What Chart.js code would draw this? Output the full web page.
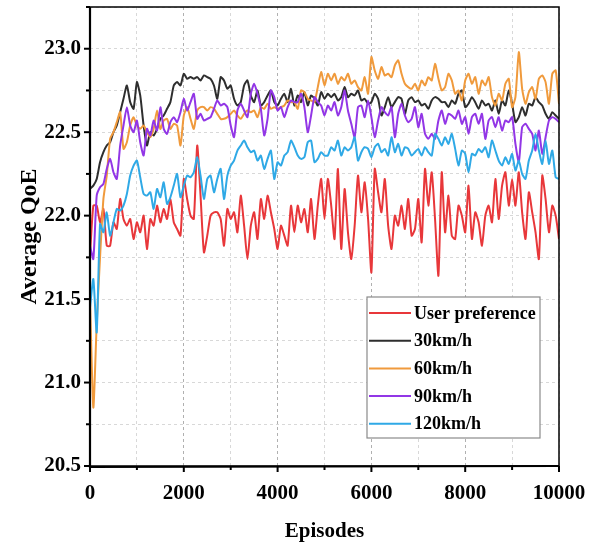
<!DOCTYPE html>
<html>
<head>
<meta charset="utf-8">
<script src="https://cdn.jsdelivr.net/npm/chart.js@4.4.1/dist/chart.umd.min.js"></script>
<style>
html,body{margin:0;padding:0;background:#fff;}
#wrap{width:590px;height:548px;position:relative;}
</style>
</head>
<body>
<div id="wrap"><canvas id="c" width="590" height="548"></canvas></div>
<script>
// Episode grid (141 samples from 0 to 10000)
const episodes = Array.from({length:141}, (_, i) => Math.round(i * 10000 / 140));

const seriesLabels = ["User preference", "30km/h", "60km/h", "90km/h", "120km/h"];

const userPreference = [
21.76,22.06,22.06,21.96,22.04,21.82,21.82,21.96,21.92,22.10,21.98,21.94,21.98,21.86,21.96,21.90,22.00,21.80,21.98,21.94,22.06,21.96,22.04,21.98,22.10,21.96,21.92,21.88,22.22,22.10,22.00,21.98,22.42,22.12,21.78,
21.88,22.00,22.02,22.02,21.98,21.82,22.04,21.98,22.02,21.90,22.12,21.94,21.74,21.94,22.02,21.86,22.10,21.98,22.12,22.02,21.92,21.80,21.94,21.88,21.82,22.06,21.90,22.06,21.96,22.04,21.90,22.10,21.86,22.06,22.22,21.98,
22.22,22.06,21.86,22.28,21.80,22.16,21.90,21.74,21.94,22.24,22.02,22.20,21.98,21.66,22.28,22.14,22.02,22.22,21.94,21.80,22.00,21.94,22.06,21.92,22.10,21.88,21.92,22.10,21.84,22.28,22.06,22.26,21.98,21.64,22.26,
21.90,22.12,21.88,21.86,22.06,22.00,21.90,22.18,21.86,22.02,21.96,21.82,22.00,22.06,21.96,22.22,21.98,22.18,22.26,22.06,22.22,22.06,22.26,22.02,21.86,22.14,22.02,21.90,21.74,22.24,22.10,21.90,22.06,22.00,21.86];

const speed30 = [
22.16,22.18,22.22,22.32,22.38,22.42,22.44,22.50,22.54,22.62,22.70,22.78,22.68,22.64,22.80,22.72,22.54,22.42,22.50,22.48,22.52,22.58,22.60,22.64,22.68,22.78,22.80,22.78,22.85,22.82,22.83,22.82,22.83,22.81,22.84,
22.83,22.82,22.78,22.70,22.83,22.81,22.76,22.78,22.70,22.66,22.68,22.78,22.81,22.72,22.68,22.75,22.66,22.68,22.72,22.75,22.68,22.66,22.70,22.73,22.68,22.76,22.66,22.72,22.68,22.74,22.66,22.72,22.70,22.66,22.74,22.70,
22.73,22.71,22.73,22.69,22.71,22.77,22.71,22.73,22.72,22.75,22.69,22.70,22.67,22.68,22.73,22.70,22.60,22.65,22.71,22.65,22.68,22.71,22.70,22.61,22.69,22.71,22.68,22.69,22.66,22.67,22.64,22.69,22.71,22.70,22.68,
22.68,22.65,22.69,22.67,22.73,22.75,22.65,22.67,22.71,22.68,22.64,22.69,22.66,22.67,22.63,22.69,22.61,22.69,22.66,22.75,22.67,22.56,22.59,22.65,22.60,22.67,22.66,22.71,22.68,22.66,22.61,22.58,22.62,22.60,22.58];

const speed60 = [
21.50,20.85,21.35,21.75,22.10,22.24,22.46,22.50,22.56,22.62,22.40,22.44,22.54,22.59,22.54,22.52,22.54,22.50,22.47,22.52,22.63,22.52,22.57,22.58,22.52,22.55,22.54,22.42,22.60,22.65,22.58,22.52,22.63,22.65,22.65,
22.63,22.65,22.64,22.61,22.58,22.58,22.59,22.61,22.63,22.60,22.58,22.61,22.63,22.62,22.63,22.59,22.65,22.64,22.67,22.64,22.65,22.64,22.65,22.66,22.69,22.68,22.68,22.64,22.75,22.74,22.70,22.69,22.68,22.77,22.86,22.78,
22.85,22.81,22.85,22.79,22.83,22.81,22.85,22.79,22.81,22.77,22.75,22.83,22.73,22.95,22.87,22.82,22.89,22.84,22.85,22.83,22.90,22.93,22.85,22.79,22.77,22.76,22.79,22.75,22.81,22.78,22.83,22.81,22.91,22.82,22.75,
22.77,22.85,22.81,22.73,22.75,22.69,22.81,22.85,22.79,22.83,22.73,22.81,22.78,22.83,22.71,22.66,22.73,22.69,22.79,22.82,22.65,22.71,22.98,22.76,22.67,22.74,22.77,22.70,22.82,22.84,22.80,22.67,22.85,22.87,22.67];

const speed90 = [
21.82,21.74,22.12,22.17,22.19,22.28,22.34,22.26,22.22,22.42,22.54,22.65,22.54,22.50,22.57,22.44,22.36,22.52,22.48,22.57,22.51,22.65,22.52,22.49,22.56,22.59,22.56,22.62,22.70,22.63,22.68,22.73,22.58,22.61,22.57,
22.58,22.59,22.64,22.69,22.66,22.67,22.65,22.54,22.47,22.63,22.67,22.63,22.59,22.73,22.79,22.73,22.64,22.48,22.58,22.75,22.71,22.63,22.65,22.59,22.65,22.69,22.68,22.68,22.73,22.65,22.50,22.60,22.71,22.68,22.66,22.60,
22.66,22.63,22.68,22.60,22.65,22.75,22.63,22.55,22.47,22.65,22.66,22.59,22.69,22.59,22.47,22.57,22.65,22.62,22.60,22.65,22.47,22.61,22.67,22.60,22.56,22.58,22.65,22.53,22.61,22.49,22.46,22.49,22.46,22.57,22.63,
22.55,22.61,22.60,22.58,22.63,22.55,22.59,22.49,22.59,22.61,22.55,22.61,22.46,22.57,22.59,22.53,22.59,22.51,22.57,22.56,22.59,22.43,22.32,22.53,22.55,22.52,22.49,22.39,22.51,22.37,22.47,22.57,22.59,22.58,22.56];

const speed120 = [
21.45,21.62,21.30,21.95,21.90,22.02,21.88,21.96,22.04,22.03,22.06,22.13,22.24,22.30,22.33,22.23,22.13,22.12,22.14,22.04,22.16,22.11,22.20,22.07,22.11,22.18,22.25,22.11,22.18,22.24,22.23,22.26,22.35,22.24,22.10,
22.22,22.24,22.14,22.22,22.28,22.10,22.24,22.30,22.33,22.39,22.42,22.45,22.41,22.38,22.39,22.33,22.36,22.28,22.34,22.39,22.22,22.32,22.30,22.36,22.38,22.45,22.41,22.36,22.34,22.35,22.44,22.45,22.32,22.34,22.38,22.36,
22.36,22.41,22.39,22.45,22.36,22.41,22.39,22.41,22.47,22.33,22.38,22.41,22.40,22.35,22.41,22.43,22.38,22.40,22.36,22.47,22.38,22.43,22.36,22.41,22.40,22.36,22.38,22.40,22.36,22.41,22.38,22.36,22.49,22.46,22.42,
22.47,22.43,22.49,22.40,22.30,22.39,22.37,22.26,22.37,22.36,22.40,22.38,22.41,22.35,22.45,22.39,22.33,22.30,22.35,22.31,22.37,22.27,22.33,22.25,22.22,22.33,22.39,22.49,22.39,22.31,22.45,22.31,22.39,22.23,22.22];

const xTickLabels = ["0", "2000", "4000", "6000", "8000", "10000"];
const yTickLabels = ["20.5", "21.0", "21.5", "22.0", "22.5", "23.0"];

const colors = ["#e8373a", "#2e2e2e", "#f09a3c", "#9236e6", "#2fa9e6"];
const seriesData = [userPreference, speed30, speed60, speed90, speed120];

const FONT = '"Liberation Serif","Times New Roman",serif';

const datasets = seriesData.map((arr, k) => ({
  label: seriesLabels[k],
  data: episodes.map((x, i) => ({x: x, y: arr[i]})),
  borderColor: colors[k],
  backgroundColor: colors[k],
  borderWidth: 2,
  pointRadius: 0,
  tension: 0.2,
  fill: false,
  order: 5 - k
}));

const framePlugin = {
  id: 'frame',
  afterDraw(chart) {
    const ctx = chart.ctx;
    const ca = chart.chartArea;
    const xs = chart.scales.x, ys = chart.scales.y;
    ctx.save();
    // box
    ctx.strokeStyle = '#000';
    ctx.lineWidth = 1.5;
    ctx.strokeRect(ca.left, ca.top, ca.right - ca.left, ca.bottom - ca.top);
    ctx.lineWidth = 2.2;
    ctx.beginPath();
    ctx.moveTo(ca.left, ca.top); ctx.lineTo(ca.left, ca.bottom + 1); ctx.lineTo(ca.right, ca.bottom);
    ctx.stroke();
    // ticks
    ctx.lineWidth = 2;
    ys.ticks.forEach(t => {
      const y = ys.getPixelForValue(t.value);
      const major = Math.abs(t.value * 2 - Math.round(t.value * 2)) < 1e-6;
      const len = major ? 6 : 4;
      ctx.beginPath(); ctx.moveTo(ca.left - len, y); ctx.lineTo(ca.left, y); ctx.stroke();
    });
    xs.ticks.forEach(t => {
      const x = xs.getPixelForValue(t.value);
      const major = t.value % 2000 === 0;
      const len = major ? 6 : 4;
      ctx.beginPath(); ctx.moveTo(x, ca.bottom); ctx.lineTo(x, ca.bottom + len); ctx.stroke();
    });
    // legend
    const lx = ca.right - 192, ly = ca.bottom - 169, lw = 173, lh = 141;
    ctx.fillStyle = '#fff';
    ctx.fillRect(lx, ly, lw, lh);
    ctx.strokeStyle = '#8a8a8a';
    ctx.lineWidth = 1.2;
    ctx.strokeRect(lx, ly, lw, lh);
    ctx.font = 'bold 18px ' + FONT;
    ctx.textBaseline = 'middle';
    ctx.textAlign = 'left';
    chart.data.datasets.forEach((ds, k) => {
      const y = ly + 16 + k * 27.7;
      ctx.strokeStyle = ds.borderColor;
      ctx.lineWidth = 2;
      ctx.beginPath(); ctx.moveTo(lx + 2, y); ctx.lineTo(lx + 44, y); ctx.stroke();
      ctx.fillStyle = '#000';
      ctx.fillText(ds.label, lx + 47, y + 1);
    });
    ctx.restore();
  }
};

new Chart(document.getElementById('c'), {
  type: 'line',
  data: { datasets: datasets },
  options: {
    responsive: false,
    animation: false,
    layout: { padding: { top: 7, right: 31, left: 0, bottom: 0 } },
    plugins: { legend: { display: false }, tooltip: { enabled: false } },
    scales: {
      x: {
        type: 'linear',
        min: 0, max: 10000,
        afterFit(s) { s.height = 82; s.paddingLeft = 0; s.paddingRight = 0; },
        ticks: {
          stepSize: 1000, autoSkip: false, maxRotation: 0, padding: 9,
          color: '#000',
          font: { family: FONT, weight: 'bold', size: 21 },
          callback: v => (v % 2000 === 0 ? xTickLabels[v / 2000] : '')
        },
        grid: {
          color: c => (c.tick && c.tick.value % 2000 === 0 && c.tick.value > 0 && c.tick.value < 10000) ? 'rgba(150,150,150,0.75)' : 'rgba(200,200,200,0.7)',
          lineWidth: 1, tickLength: 6, tickColor: 'rgba(0,0,0,0)'
        },
        border: { display: false, dash: [3, 3] },
        title: {
          display: true, text: 'Episodes', color: '#000',
          font: { family: FONT, weight: 'bold', size: 21 },
          padding: { top: 0, bottom: 4 }
        }
      },
      y: {
        min: 20.5, max: 23.25,
        afterFit(s) { s.width = 90; s.paddingTop = 0; s.paddingBottom = 0; },
        ticks: {
          stepSize: 0.25, autoSkip: false, padding: 3,
          color: '#000',
          font: { family: FONT, weight: 'bold', size: 21 },
          callback: v => {
            const k = Math.round((v - 20.5) * 2);
            return Math.abs((v - 20.5) * 2 - k) < 1e-6 && k < yTickLabels.length ? yTickLabels[k] : '';
          }
        },
        grid: {
          color: 'rgba(200,200,200,0.7)', lineWidth: 1, tickLength: 6, tickColor: 'rgba(0,0,0,0)'
        },
        border: { display: false, dash: [3, 3] },
        title: {
          display: true, text: 'Average QoE', color: '#000',
          font: { family: FONT, weight: 'bold', size: 24 },
          padding: { top: 15, bottom: 0 }
        }
      }
    }
  },
  plugins: [framePlugin]
});
</script>
</body>
</html>
